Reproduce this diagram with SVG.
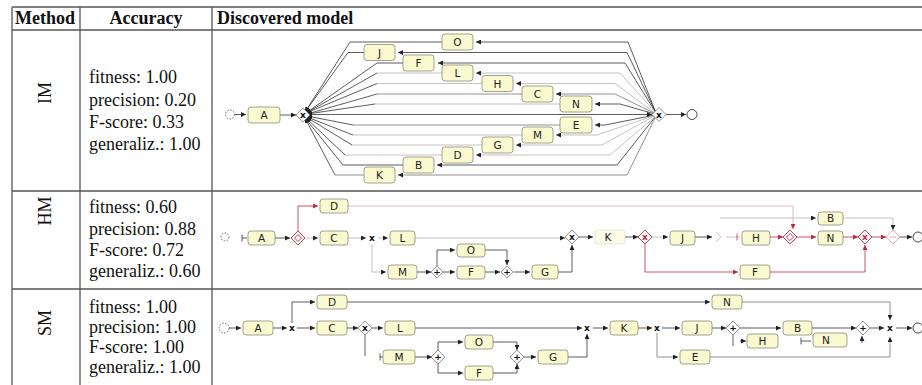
<svg xmlns="http://www.w3.org/2000/svg" width="922" height="385" viewBox="0 0 922 385">
<style>
.tbl{stroke:#555;stroke-width:1.3;fill:none}
.hdr{font-family:"Liberation Serif",serif;font-weight:bold;font-size:18px;fill:#111}
.acc{font-family:"Liberation Serif",serif;font-size:18px;fill:#111}
.box{fill:#fbf9d0;stroke:#8a8a7a;stroke-width:0.8}
.fbox{fill:#fdfce6;stroke:#d8d8c8;stroke-width:0.6}
.lbl{font-family:"DejaVu Sans",sans-serif;font-size:10.5px;text-anchor:middle;fill:#222}
.e{fill:none;stroke:#333;stroke-width:0.8}
.lt{stroke:#b4b4b4}
.md{stroke:#777}
.rd{stroke:#c0283c}
.pk{stroke:#e6a3ad}
.gw{fill:#fff;stroke:#666;stroke-width:0.7}
.gr{fill:#fff;stroke:#c0283c;stroke-width:0.9}
.gt{font-family:"DejaVu Sans",sans-serif;font-size:9px;text-anchor:middle;fill:#111;font-weight:bold}
.gtr{font-family:"DejaVu Sans",sans-serif;font-size:9px;text-anchor:middle;fill:#c0283c;font-weight:bold}
.ev{fill:#fff;stroke:#333;stroke-width:0.9}
.evs{fill:#fff;stroke:#555;stroke-width:0.9;stroke-dasharray:1.5 1.5}
</style>
<defs>
<marker id="ah" viewBox="0 0 6 6" refX="6" refY="3" markerUnits="userSpaceOnUse" markerWidth="5" markerHeight="5" orient="auto"><path d="M0,0 L6,3 L0,6 z" fill="#222"/></marker>
<marker id="ahr" viewBox="0 0 6 6" refX="6" refY="3" markerUnits="userSpaceOnUse" markerWidth="5" markerHeight="5" orient="auto"><path d="M0,0 L6,3 L0,6 z" fill="#c0283c"/></marker>
</defs>

<g id="table">
<path class="tbl" d="M12,7 H922 M12,30 H922 M12,191 H922 M12,289 H922 M12,7 V385 M80,7 V385 M212,7 V385"/>
<text class="hdr" x="15" y="24">Method</text>
<text class="hdr" x="146" y="24" text-anchor="middle">Accuracy</text>
<text class="hdr" x="217" y="24">Discovered model</text>
<text class="acc" transform="translate(51,93) rotate(-90)" text-anchor="middle">IM</text>
<text class="acc" transform="translate(51,211) rotate(-90)" text-anchor="middle">HM</text>
<text class="acc" transform="translate(51,323) rotate(-90)" text-anchor="middle">SM</text>
<text class="acc" x="89" y="83">fitness: 1.00</text>
<text class="acc" x="89" y="105.5">precision: 0.20</text>
<text class="acc" x="89" y="128">F-score: 0.33</text>
<text class="acc" x="89" y="150">generaliz.: 1.00</text>
<text class="acc" x="89" y="213">fitness: 0.60</text>
<text class="acc" x="89" y="235">precision: 0.88</text>
<text class="acc" x="89" y="256">F-score: 0.72</text>
<text class="acc" x="89" y="277">generaliz.: 0.60</text>
<text class="acc" x="89" y="313">fitness: 1.00</text>
<text class="acc" x="89" y="333">precision: 1.00</text>
<text class="acc" x="89" y="352.5">F-score: 1.00</text>
<text class="acc" x="89" y="373">generaliz.: 1.00</text>
</g>

<!-- ===== IM connectors ===== -->
<g id="im-connectors">
<path class="e" d="M235,114.5 L246,114.5" marker-end="url(#ah)"/>
<path class="e" d="M280,115 L296,115" marker-end="url(#ah)"/>
<path class="e" d="M309,114.5 L652,114.5" marker-end="url(#ah)"/>
<path class="e" d="M665,114.5 L686,114.5" marker-end="url(#ah)"/>
<!-- right parts: join gateway -> activities -->
<path class="e" d="M656,113 L628,42 L476,42" marker-end="url(#ah)"/>
<path class="e" d="M656,113 L627,52.5 L398,52.5" marker-end="url(#ah)"/>
<path class="e" d="M656,113 L625,63 L438,63" marker-end="url(#ah)"/>
<path class="e lt" d="M656,113 L620,73 L476,73" marker-end="url(#ah)"/>
<path class="e lt" d="M656,114 L615,83.5 L516,83.5" marker-end="url(#ah)"/>
<path class="e md" d="M656,114 L615,94 L556,94" marker-end="url(#ah)"/>
<path class="e" d="M655,114 L620,104 L595,104" marker-end="url(#ah)"/>
<path class="e" d="M655,115 L605,125 L595,125" marker-end="url(#ah)"/>
<path class="e lt" d="M656,115 L597,135 L556,135" marker-end="url(#ah)"/>
<path class="e lt" d="M656,115 L602,145 L516,145" marker-end="url(#ah)"/>
<path class="e lt" d="M656,116 L610,155 L476,155" marker-end="url(#ah)"/>
<path class="e" d="M656,116 L617,165 L437,165" marker-end="url(#ah)"/>
<path class="e md" d="M656,116 L627,175 L398,175" marker-end="url(#ah)"/>
<!-- left parts: activities -> split gateway -->
<path class="e" d="M442,42 L350,42 L305,112" marker-end="url(#ah)"/>
<path class="e" d="M364,52.5 L348,52.5 L305,112" marker-end="url(#ah)"/>
<path class="e" d="M403,63 L377,63 L306,113" marker-end="url(#ah)"/>
<path class="e lt" d="M442,73 L377,73"/><path class="e" d="M377,73 L306,113" marker-end="url(#ah)"/>
<path class="e lt" d="M482,83.5 L377,83.5"/><path class="e" d="M377,83.5 L306,113" marker-end="url(#ah)"/>
<path class="e md" d="M522,94 L377,94"/><path class="e" d="M377,94 L307,114" marker-end="url(#ah)"/>
<path class="e lt" d="M560,104 L375,104"/><path class="e" d="M375,104 L307,114" marker-end="url(#ah)"/>
<path class="e md" d="M560,125 L353,125"/><path class="e" d="M353,125 L307,116" marker-end="url(#ah)"/>
<path class="e lt" d="M522,135 L353,135"/><path class="e" d="M353,135 L307,117" marker-end="url(#ah)"/>
<path class="e lt" d="M482,145 L352,145"/><path class="e" d="M352,145 L306,117" marker-end="url(#ah)"/>
<path class="e lt" d="M442,155 L345,155"/><path class="e" d="M345,155 L306,118" marker-end="url(#ah)"/>
<path class="e" d="M403,165 L343,165 L305,118" marker-end="url(#ah)"/>
<path class="e md" d="M364,175 L335,175"/><path class="e" d="M335,175 L305,118" marker-end="url(#ah)"/>
</g>

<!-- ===== IM nodes ===== -->
<g id="im-start"><circle class="evs" cx="230" cy="114.5" r="4.5"/></g>
<g id="im-A"><rect class="box" x="248" y="107" width="32" height="16" rx="3"/><text class="lbl" x="264" y="119">A</text></g>
<g id="im-xor-split"><path class="gw" d="M303,108 L310,115 L303,122 L296,115 z"/><text class="gt" x="303" y="118">x</text></g>
<g id="im-xor-join"><path class="gw" d="M659,107.5 L666,114.5 L659,121.5 L652,114.5 z"/><text class="gt" x="659" y="117.5">x</text></g>
<g id="im-end"><circle class="ev" cx="692" cy="114.5" r="5"/></g>
<g id="im-O"><rect class="box" x="442" y="34" width="31" height="16" rx="3"/><text class="lbl" x="457.5" y="46">O</text></g>
<g id="im-J"><rect class="box" x="364" y="44.5" width="31" height="16" rx="3"/><text class="lbl" x="379.5" y="56.5">J</text></g>
<g id="im-F"><rect class="box" x="403" y="55" width="31" height="16" rx="3"/><text class="lbl" x="418.5" y="67">F</text></g>
<g id="im-L"><rect class="box" x="442" y="65" width="31" height="16" rx="3"/><text class="lbl" x="457.5" y="77">L</text></g>
<g id="im-H"><rect class="box" x="482" y="75.5" width="31" height="16" rx="3"/><text class="lbl" x="497.5" y="87.5">H</text></g>
<g id="im-C"><rect class="box" x="522" y="86" width="31" height="16" rx="3"/><text class="lbl" x="537.5" y="98">C</text></g>
<g id="im-N"><rect class="box" x="560" y="96" width="32" height="16" rx="3"/><text class="lbl" x="576" y="108">N</text></g>
<g id="im-E"><rect class="box" x="560" y="117" width="32" height="16" rx="3"/><text class="lbl" x="576" y="129">E</text></g>
<g id="im-M"><rect class="box" x="522" y="127" width="31" height="16" rx="3"/><text class="lbl" x="537.5" y="139">M</text></g>
<g id="im-G"><rect class="box" x="482" y="137" width="31" height="16" rx="3"/><text class="lbl" x="497.5" y="149">G</text></g>
<g id="im-D"><rect class="box" x="442" y="147" width="31" height="16" rx="3"/><text class="lbl" x="457.5" y="159">D</text></g>
<g id="im-B"><rect class="box" x="403" y="157" width="31" height="16" rx="3"/><text class="lbl" x="418.5" y="169">B</text></g>
<g id="im-K"><rect class="box" x="364" y="167" width="31" height="16" rx="3"/><text class="lbl" x="379.5" y="179">K</text></g>

<!-- ===== HM connectors ===== -->
<g id="hm-connectors">
<path class="e" d="M242,234.5 V241.5 M242,238 H247"/>
<path class="e" d="M275,238 L290,238" marker-end="url(#ah)"/>
<path class="e rd" d="M298,231 L298,206 L318,206" marker-end="url(#ahr)"/>
<path class="e pk" d="M348,206 L793,206 L793,229" marker-end="url(#ahr)"/>
<path class="e lt" d="M306,238 L318,238" marker-end="url(#ah)"/>
<path class="e lt" d="M348,238 L366,238" marker-end="url(#ah)"/>
<path class="e lt" d="M378,238 L388,238" marker-end="url(#ah)"/>
<path class="e lt" d="M372,244 L372,272 L386,272" marker-end="url(#ah)"/>
<path class="e" d="M417,272 L431,272" marker-end="url(#ah)"/>
<path class="e" d="M437,266 L437,250 L455,250" marker-end="url(#ah)"/>
<path class="e" d="M443,272 L455,272" marker-end="url(#ah)"/>
<path class="e" d="M485,250 L507,250 L507,265" marker-end="url(#ah)"/>
<path class="e" d="M485,272 L500,272" marker-end="url(#ah)"/>
<path class="e" d="M514,272 L530,272" marker-end="url(#ah)"/>
<path class="e lt" d="M415,238 L565,238" marker-end="url(#ah)"/>
<path class="e" d="M558,272 L572,272 L572,245" marker-end="url(#ah)"/>
<path class="e" d="M579,237 L593,237" marker-end="url(#ah)"/>
<path class="e" d="M625,237 L638,237" marker-end="url(#ah)"/>
<path class="e lt" d="M652,237 L668,237" marker-end="url(#ah)"/>
<path class="e rd" d="M645,244 L645,272 L738,272" marker-end="url(#ahr)"/>
<path class="e" d="M695,237 L712,237" marker-end="url(#ah)"/>
<path class="e pk" d="M726,237 L740,237"/>
<path class="e rd" d="M737,233.5 V240.5"/>
<path class="e lt" d="M720,218 L816,218" marker-end="url(#ah)"/>
<path class="e rd" d="M770,237 L783,237" marker-end="url(#ahr)"/>
<path class="e rd" d="M797,237 L816,237" marker-end="url(#ahr)"/>
<path class="e rd" d="M843,237 L858,237" marker-end="url(#ahr)"/>
<path class="e rd" d="M770,272 L865,272 L865,245" marker-end="url(#ahr)"/>
<path class="e lt" d="M843,218 L893,218 L893,230" marker-end="url(#ah)"/>
<path class="e rd" d="M872,237 L886,237" marker-end="url(#ahr)"/>
<path class="e" d="M900,237 L912,237" marker-end="url(#ah)"/>
</g>

<!-- ===== HM nodes ===== -->
<g id="hm-start"><circle class="evs" cx="225" cy="237" r="4"/></g>
<g id="hm-A"><rect class="box" x="248" y="231" width="27" height="14" rx="3"/><text class="lbl" x="261.5" y="241.5">A</text></g>
<g id="hm-or1"><path class="gr" d="M298,231 L305,238 L298,245 L291,238 z"/><path class="gr" d="M298,234.5 L301.5,238 L298,241.5 L294.5,238 z"/></g>
<g id="hm-D"><rect class="box" x="320" y="199" width="28" height="14" rx="3"/><text class="lbl" x="334" y="209.5">D</text></g>
<g id="hm-C"><rect class="box" x="320" y="231" width="28" height="14" rx="3"/><text class="lbl" x="334" y="241.5">C</text></g>
<g id="hm-xor1"><text class="gt" x="372" y="241">x</text></g>
<g id="hm-L"><rect class="box" x="390" y="231" width="25" height="14" rx="3"/><text class="lbl" x="402.5" y="241.5">L</text></g>
<g id="hm-M"><rect class="box" x="388" y="265" width="29" height="14" rx="3"/><text class="lbl" x="402.5" y="275.5">M</text></g>
<g id="hm-and1"><path class="gw" d="M437,266 L443,272 L437,278 L431,272 z"/><text class="gt" x="437" y="275">+</text></g>
<g id="hm-O"><rect class="box" x="457" y="244" width="28" height="13" rx="3"/><text class="lbl" x="471" y="254">O</text></g>
<g id="hm-F"><rect class="box" x="457" y="266" width="28" height="13" rx="3"/><text class="lbl" x="471" y="276">F</text></g>
<g id="hm-and2"><path class="gw" d="M507,266 L513,272 L507,278 L501,272 z"/><text class="gt" x="507" y="275">+</text></g>
<g id="hm-G"><rect class="box" x="532" y="265" width="26" height="14" rx="3"/><text class="lbl" x="545" y="275.5">G</text></g>
<g id="hm-xor2"><path class="gw" d="M572,230 L579,237 L572,244 L565,237 z"/><text class="gt" x="572" y="240">x</text></g>
<g id="hm-K"><rect class="fbox" x="595" y="230" width="30" height="14" rx="3"/><text class="lbl" x="608" y="240.5">K</text></g>
<g id="hm-xor3"><path class="gr" d="M645,230 L652,237 L645,244 L638,237 z"/><text class="gtr" x="645" y="240">x</text></g>
<g id="hm-J"><rect class="box" x="670" y="231" width="25" height="14" rx="3"/><text class="lbl" x="682.5" y="241.5">J</text></g>
<g id="hm-silent"><path fill="none" class="pk" stroke-width="0.8" d="M716,232 L721,237 L716,242"/></g>
<g id="hm-F2"><rect class="box" x="740" y="265" width="30" height="14" rx="3"/><text class="lbl" x="755" y="275.5">F</text></g>
<g id="hm-H"><rect class="box" x="742" y="231" width="28" height="14" rx="3"/><text class="lbl" x="756" y="241.5">H</text></g>
<g id="hm-or2"><path class="gr" d="M790,230 L797,237 L790,244 L783,237 z"/><path class="gr" d="M790,233.5 L793.5,237 L790,240.5 L786.5,237 z"/></g>
<g id="hm-B"><rect class="box" x="818" y="212" width="25" height="13" rx="3"/><text class="lbl" x="830.5" y="222">B</text></g>
<g id="hm-N"><rect class="box" x="818" y="231" width="25" height="14" rx="3"/><text class="lbl" x="830.5" y="241.5">N</text></g>
<g id="hm-xor4"><path class="gr" d="M865,230 L872,237 L865,244 L858,237 z"/><text class="gtr" x="865" y="240">x</text></g>
<g id="hm-join"><path fill="#fff" class="pk" stroke-width="0.9" d="M893,230 L900,237 L893,244 L886,237 z"/><path class="pk" stroke-width="0.9" d="M890,237 H896"/></g>
<g id="hm-end"><circle class="ev" cx="918" cy="237" r="5"/></g>

<!-- ===== SM connectors ===== -->
<g id="sm-connectors">
<path class="e" d="M229,328 L241,328" marker-end="url(#ah)"/>
<path class="e" d="M273,328 L287,328" marker-end="url(#ah)"/>
<path class="e" d="M292,323 L292,302 L315,302" marker-end="url(#ah)"/>
<path class="e" d="M297,328 L315,328" marker-end="url(#ah)"/>
<path class="e" d="M347,328 L358,328" marker-end="url(#ah)"/>
<path class="e" d="M372,328 L383,328" marker-end="url(#ah)"/>
<path class="e" d="M365,335 L365,356"/>
<path class="e" d="M380,353.5 V360.5 M380,357 H383"/>
<path class="e" d="M415,357 L432,357" marker-end="url(#ah)"/>
<path class="e" d="M438,351 L438,342 L463,342" marker-end="url(#ah)"/>
<path class="e" d="M438,363 L438,373 L463,373" marker-end="url(#ah)"/>
<path class="e" d="M493,342 L517,342 L517,350" marker-end="url(#ah)"/>
<path class="e" d="M493,373 L517,373 L517,364" marker-end="url(#ah)"/>
<path class="e" d="M524,357 L536,357" marker-end="url(#ah)"/>
<path class="e" d="M568,357 L587,357 L587,334" marker-end="url(#ah)"/>
<path class="e" d="M415,328 L582,328" marker-end="url(#ah)"/>
<path class="e" d="M347,302 L710,302" marker-end="url(#ah)"/>
<path class="e" d="M593,328 L608,328" marker-end="url(#ah)"/>
<path class="e" d="M638,328 L652,328" marker-end="url(#ah)"/>
<path class="e" d="M662,328 L680,328" marker-end="url(#ah)"/>
<path class="e md" d="M657,333 L657,357 L678,357" marker-end="url(#ah)"/>
<path class="e" d="M712,328 L726,328" marker-end="url(#ah)"/>
<path class="e" d="M740,328 L781,328" marker-end="url(#ah)"/>
<path class="e" d="M733,335 L733,346"/>
<path class="e" d="M740,341 L746,341" marker-end="url(#ah)"/>
<path class="e" d="M801,337.5 V344.5 M801,341 H811"/>
<path class="e" d="M812,328 L856,328" marker-end="url(#ah)"/>
<path class="e" d="M862,343 L862,336" marker-end="url(#ah)"/>
<path class="e" d="M870,328 L884,328" marker-end="url(#ah)"/>
<path class="e md" d="M742,302 L890,302 L890,320" marker-end="url(#ah)"/>
<path class="e md" d="M710,357 L890,357 L890,337" marker-end="url(#ah)"/>
<path class="e" d="M896,328 L912,328" marker-end="url(#ah)"/>
</g>

<!-- ===== SM nodes ===== -->
<g id="sm-start"><circle class="evs" cx="224" cy="328" r="5"/></g>
<g id="sm-A"><rect class="box" x="243" y="321" width="30" height="14" rx="3"/><text class="lbl" x="258" y="331.5">A</text></g>
<g id="sm-xor1"><text class="gt" x="292" y="331">x</text></g>
<g id="sm-D"><rect class="box" x="317" y="295" width="30" height="14" rx="3"/><text class="lbl" x="332" y="305.5">D</text></g>
<g id="sm-C"><rect class="box" x="317" y="321" width="30" height="14" rx="3"/><text class="lbl" x="332" y="331.5">C</text></g>
<g id="sm-xor2"><path class="gw" d="M365,321 L372,328 L365,335 L358,328 z"/><text class="gt" x="365" y="331">x</text></g>
<g id="sm-L"><rect class="box" x="385" y="321" width="30" height="14" rx="3"/><text class="lbl" x="400" y="331.5">L</text></g>
<g id="sm-M"><rect class="box" x="383" y="350" width="32" height="14" rx="3"/><text class="lbl" x="399" y="360.5">M</text></g>
<g id="sm-and1"><path class="gw" d="M438,350 L445,357 L438,364 L431,357 z"/><text class="gt" x="438" y="360">+</text></g>
<g id="sm-O"><rect class="box" x="465" y="335" width="28" height="14" rx="3"/><text class="lbl" x="479" y="345.5">O</text></g>
<g id="sm-F"><rect class="box" x="465" y="366" width="28" height="14" rx="3"/><text class="lbl" x="479" y="376.5">F</text></g>
<g id="sm-and2"><path class="gw" d="M517,350 L524,357 L517,364 L510,357 z"/><text class="gt" x="517" y="360">+</text></g>
<g id="sm-G"><rect class="box" x="538" y="350" width="30" height="14" rx="3"/><text class="lbl" x="553" y="360.5">G</text></g>
<g id="sm-xor3"><text class="gt" x="587" y="331">x</text></g>
<g id="sm-K"><rect class="box" x="610" y="321" width="28" height="14" rx="3"/><text class="lbl" x="624" y="331.5">K</text></g>
<g id="sm-xor4"><text class="gt" x="657" y="331">x</text></g>
<g id="sm-J"><rect class="box" x="682" y="321" width="30" height="14" rx="3"/><text class="lbl" x="697" y="331.5">J</text></g>
<g id="sm-E"><rect class="box" x="680" y="350" width="30" height="14" rx="3"/><text class="lbl" x="695" y="360.5">E</text></g>
<g id="sm-N1"><rect class="box" x="712" y="295" width="30" height="14" rx="3"/><text class="lbl" x="727" y="305.5">N</text></g>
<g id="sm-and3"><path class="gw" d="M733,321 L740,328 L733,335 L726,328 z"/><text class="gt" x="733" y="331">+</text></g>
<g id="sm-H"><rect class="box" x="747" y="334" width="31" height="14" rx="3"/><text class="lbl" x="762.5" y="344.5">H</text></g>
<g id="sm-B"><rect class="box" x="783" y="321" width="29" height="14" rx="3"/><text class="lbl" x="797.5" y="331.5">B</text></g>
<g id="sm-N2"><rect class="box" x="813" y="333" width="34" height="14" rx="3"/><text class="lbl" x="826" y="343.5">N</text></g>
<g id="sm-and4"><path class="gw" d="M863,321 L870,328 L863,335 L856,328 z"/><text class="gt" x="863" y="331">+</text></g>
<g id="sm-xor5"><text class="gt" x="890" y="331">x</text></g>
<g id="sm-end"><circle class="ev" cx="918" cy="328" r="5"/></g>
</svg>
